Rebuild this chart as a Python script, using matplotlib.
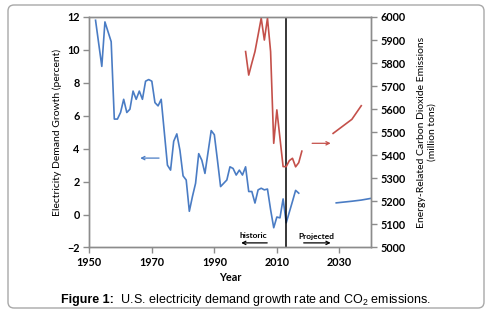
import matplotlib
matplotlib.use("Agg")
import matplotlib.pyplot as plt
from matplotlib.patches import FancyBboxPatch
from matplotlib.transforms import IdentityTransform

# electricity demand growth (percent), historic
demand_years = list(range(1952, 2018))
demand_growth = [11.8, 10.4, 9.0, 11.7, 11.1, 10.5, 5.8, 5.8, 6.2, 7.0,
                 6.2, 6.4, 7.5, 7.0, 7.5, 7.0, 8.1, 8.2, 8.1, 6.8,
                 6.6, 7.0, 5.0, 3.0, 2.7, 4.45, 4.9, 3.9, 2.35, 2.1,
                 0.2, 1.1, 1.9, 3.7, 3.3, 2.5, 3.8, 5.1, 4.85, 3.3,
                 1.7, 1.9, 2.1, 2.9, 2.8, 2.4, 2.7, 2.4, 2.9, 1.4,
                 1.4, 0.7, 1.5, 1.6, 1.5, 1.55, 0.3, -0.8, -0.15, -0.2,
                 0.95, -0.5, 0.15, 0.8, 1.47, 1.3]
# projected demand growth
proj_demand_years = [2029, 2034, 2037, 2040]
proj_demand = [0.71, 0.81, 0.88, 0.98]

# CO2 emissions (million tons)
co2_years = list(range(2000, 2019))
co2 = [5850, 5748, 5800, 5850, 5922, 5995, 5900, 5995, 5850, 5452,
       5597, 5474, 5351, 5351, 5377, 5387, 5350, 5368, 5418]
proj_co2_years = [2028, 2034, 2037]
proj_co2 = [5495, 5556, 5615]

blue = "#4A7CC4"
red = "#C4504A"
gray = "#8C8C8C"

plt.rcParams["mathtext.fontset"] = "custom"
plt.rcParams["mathtext.rm"] = "Liberation Sans"

fig = plt.figure(figsize=(4.92, 3.26), dpi=100)
ax = fig.add_axes([0.1815, 0.2408, 0.5718, 0.7071])
ax2 = ax.twinx()

ax.plot(demand_years, demand_growth, color=blue, lw=1.2)
ax.plot(proj_demand_years, proj_demand, color=blue, lw=1.2, clip_on=False)
ax2.plot(co2_years, co2, color=red, lw=1.2)
ax2.plot(proj_co2_years, proj_co2, color=red, lw=1.2)

ax.axvline(2013, color="black", lw=1.1)

ax.set_xlim(1950, 2040)
ax.set_ylim(-2, 12)
ax2.set_ylim(5000, 6000)
ax.set_xticks([1950, 1970, 1990, 2010, 2030])
ax.set_yticks(range(-2, 13, 2))
ax2.set_yticks(range(5000, 6001, 100))

for a in (ax, ax2):
    for s in a.spines.values():
        s.set_color(gray)
        s.set_linewidth(1.0)
ax.tick_params(axis="both", direction="out", length=4, color=gray, width=1,
               labelsize=7.8, pad=3)
ax2.tick_params(axis="y", direction="out", length=4, color=gray, width=1,
                labelsize=7.8, pad=3)
for lab in ax.get_xticklabels() + ax.get_yticklabels() + ax2.get_yticklabels():
    lab.set_fontfamily("Lato")
    lab.set_fontweight("bold")

ax.set_ylabel("Electricity Demand Growth (percent)", fontsize=7.5,
              fontfamily="Lato", labelpad=4)
ax2.set_ylabel("Energy-Related Carbon Dioxide Emissions\n(million tons)",
               fontsize=7.5, fontfamily="Lato", labelpad=8, linespacing=1.3)
ax.set_xlabel("Year", fontsize=7.8, fontfamily="Lato", fontweight="bold",
              labelpad=3)

# direction arrows
arrow_style = dict(arrowstyle="->", lw=0.9, mutation_scale=6)
ax.annotate("", xy=(1965.4, 3.43), xytext=(1973.2, 3.43),
            arrowprops=dict(color=blue, **arrow_style))
ax2.annotate("", xy=(2028.1, 5452), xytext=(2020.4, 5452),
             arrowprops=dict(color=red, **arrow_style))
ax.annotate("", xy=(1997.7, -1.72), xytext=(2007.8, -1.72),
            arrowprops=dict(color="black", **arrow_style))
ax.annotate("", xy=(2028.1, -1.72), xytext=(2017.7, -1.72),
            arrowprops=dict(color="black", **arrow_style))
ax.text(2002.5, -1.27, "historic", ha="center", va="center", fontsize=6,
        fontfamily="Lato", fontweight="bold")
ax.text(2022.8, -1.31, "Projected", ha="center", va="center", fontsize=6,
        fontfamily="Lato", fontweight="bold")

# outer rounded frame (pixel coordinates)
frame = FancyBboxPatch((8, 18), 476, 303, boxstyle="round,pad=0,rounding_size=6",
                       transform=IdentityTransform(), facecolor="none",
                       edgecolor="#A8A8A8", lw=1.0)
fig.add_artist(frame)

# caption: bold label followed by regular text, centred as one line
cap_y = 1 - 300 / 326
renderer = fig.canvas.get_renderer()
t1 = fig.text(0, cap_y, "Figure 1:", ha="left", va="center", fontsize=9,
              fontfamily="Liberation Sans", fontweight="bold")
t2 = fig.text(0, cap_y, "  U.S. electricity demand growth rate and CO$_2$ emissions.",
              ha="left", va="center", fontsize=9, fontfamily="Liberation Sans")
w1 = t1.get_window_extent(renderer).width
w2 = t2.get_window_extent(renderer).width
x0 = (fig.bbox.width - w1 - w2) / 2
t1.set_x(x0 / fig.bbox.width)
t2.set_x((x0 + w1) / fig.bbox.width)

fig.savefig("out.png", dpi=100)
